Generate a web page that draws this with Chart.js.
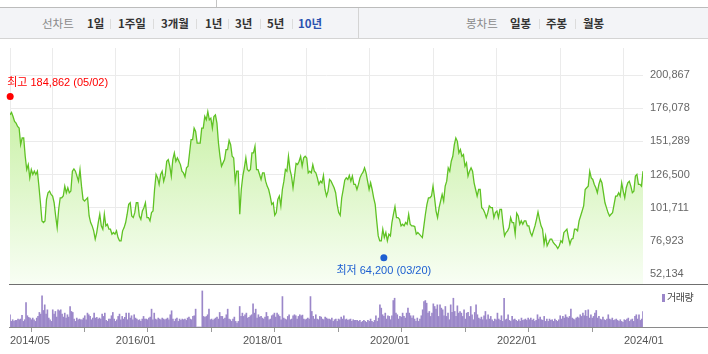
<!DOCTYPE html>
<html>
<head>
<meta charset="utf-8">
<script src="https://cdn.jsdelivr.net/npm/chart.js@4"></script>
<style>
  body { margin: 0; width: 708px; height: 354px; background: #fff; position: relative; overflow: hidden;
         font-family: "Noto Sans CJK KR", sans-serif; }
  .bar { position: absolute; left: 0; top: 7px; width: 708px; height: 30px; background: #f3f4f7;
         border-top: 1px solid #bcbcbc; border-bottom: 1px solid #d4d4d4; }
  .t { position: absolute; top: 0; line-height: 31px; font-size: 11.5px; color: #333; font-weight: bold; white-space: nowrap; }
  .t.g { color: #8a8a8a; font-weight: normal; }
  .t.on { color: #2a52b0; }
  .sep { position: absolute; top: 11px; width: 1px; height: 10px; background: #dcdcdc; }
  .div { position: absolute; top: 0; width: 1px; height: 30px; background: #d4d4d4; }
  .line { position: absolute; left: 9px; width: 699px; height: 1px; }
  canvas { position: absolute; left: 0; }
  .leg { position: absolute; left: 662px; top: 289px; font-size: 10px; color: #444; letter-spacing: -0.5px; }
  .leg i { display: inline-block; width: 3px; height: 8px; background: #9b87c9; margin-right: 2px; vertical-align: -1px; }
</style>
</head>
<body>
<div style="position:absolute;left:216px;top:0;width:1px;height:7px;background:#c4c4c4"></div>
<div class="bar">
  <span class="t g" style="left:42px">선차트</span>
  <span class="t" style="left:87px">1일</span><span class="sep" style="left:110px"></span>
  <span class="t" style="left:118px">1주일</span><span class="sep" style="left:153px"></span>
  <span class="t" style="left:161px">3개월</span><span class="sep" style="left:196px"></span>
  <span class="t" style="left:205px">1년</span><span class="sep" style="left:228px"></span>
  <span class="t" style="left:235px">3년</span><span class="sep" style="left:260px"></span>
  <span class="t" style="left:267px">5년</span><span class="sep" style="left:292px"></span>
  <span class="t on" style="left:298px">10년</span>
  <span class="div" style="left:358px"></span>
  <span class="t g" style="left:466px">봉차트</span>
  <span class="t" style="left:510px">일봉</span><span class="sep" style="left:539px"></span>
  <span class="t" style="left:546px">주봉</span><span class="sep" style="left:575px"></span>
  <span class="t" style="left:583px">월봉</span>
</div>
<canvas id="price" width="708" height="244" style="top:44px"></canvas>
<canvas id="volume" width="708" height="69" style="top:285px"></canvas>
<div class="line" style="top:284px;background:#6f6f6f"></div>
<div class="line" style="top:327px;background:#8a8a8a"></div>
<div class="leg"><i></i>거래량</div>
<script>
// 기간: 2014/05 ~ 2024/04 (개월 단위)
const spanMonths = 119.6;

// 종가 (주간 근사, 차트에서 읽은 값)
const priceValues = [
  171100,172900,169900,166200,164900,162400,161200,148800,153800,153800,140100,130200,133900,124000,130200,126500,
  129000,126500,129000,117800,105400,91800,90600,91800,107900,112900,114100,111600,110400,105400,95500,86800,
  100500,109100,109100,110400,117800,112900,116600,112900,114100,129000,130700,129000,125300,121500,130200,117800,
  107900,106700,107900,109100,95500,90600,88100,84400,78200,83100,90600,96800,88100,85600,96800,88100,89300,85600,
  85600,81900,83100,81900,84400,79400,76900,76900,84400,86800,90600,96800,104200,105400,95500,94300,98000,105400,
  105400,95500,93000,99200,101700,105400,94300,94300,91800,98000,99200,115300,126500,124000,119100,126500,
  129000,121500,125800,136400,137700,132700,125300,137700,142600,136400,138900,136400,133900,129000,127700,124800,
  131500,132700,142600,152500,152500,161200,158700,150000,150000,150000,161200,161200,169900,167400,173600,167400,
  168600,161200,169900,171100,164900,150000,140100,132700,135200,137700,145100,145100,152000,148800,140100,138900,
  121500,129000,129000,96800,115300,125300,131500,138900,130200,129000,130200,142600,142600,147600,130200,130200,
  126500,122800,127700,127700,121500,117800,115300,110400,104200,105400,96000,98000,107900,110400,103000,115300,
  121500,130200,129000,140100,130200,125300,116600,125300,134700,133900,136400,140100,132700,138900,140100,138900,
  127700,129000,127700,133900,129000,127700,
  124000,119100,121500,120300,125800,115300,110400,114100,122800,121500,119100,116600,112900,104200,98000,96000,
  109100,115300,122300,124000,122800,125800,121500,125300,119100,119100,115300,119100,124000,126500,128200,131500,
  127700,121500,115300,120300,115300,109100,104200,91800,80600,76900,76900,85600,79400,83100,76900,81900,80600,
  90600,96800,102500,94300,94300,93000,88100,89300,88100,90600,89300,96800,89300,88100,88100,87600,81900,83100,
  81900,80600,79400,88100,96800,104200,109100,109100,110400,117800,109100,99200,94300,101700,106700,111600,106700,
  117800,121500,131500,129000,136400,140100,148800,153800,151300,142600,145100,140100,141400,132700,135200,125300,
  129000,131500,129000,120300,115300,110400,115300,115300,101700,100500,
  98000,94300,98000,103000,101700,101700,94300,98000,99200,94300,100500,100500,89300,80600,83100,84400,86800,94300,
  90600,90600,81900,97500,95500,89300,91800,89300,91800,91800,88100,88100,83100,80600,84400,88100,93000,98500,
  93000,88100,85600,74400,80600,73200,75700,78200,78200,75700,74400,73200,71200,73200,76900,75700,83100,84400,
  85600,79400,74400,78200,78700,85600,85600,84400,91800,95500,99200,103000,115300,116600,117800,129000,124000,
  122800,119100,116600,112900,119100,122800,120300,112900,105400,101700,98000,95500,96800,98000,104200,110400,
  110400,112900,110400,120300,114100,109100,116600,120300,121500,117800,112900,114100,125300,126500,119100,119100,
  117800,129000
];

// 거래량 (상대값)
const volumeValues = [
  37,17,22,17,20,20,24,22,24,35,17,22,74,34,29,27,22,27,22,17,27,32,44,39,94,50,67,39,52,27,22,17,52,39,47,30,
  52,49,52,39,30,42,27,37,30,62,47,44,24,17,27,22,24,22,22,27,34,22,42,37,32,22,27,42,27,29,24,27,24,39,32,42,
  20,17,24,24,34,44,24,17,22,32,39,22,32,24,29,42,22,42,27,34,22,37,27,24,20,22,17,24,32,24,24,22,27,30,54,22,
  42,24,22,27,24,22,27,24,22,24,27,22,37,49,24,17,24,27,17,24,20,24,22,24,20,27,30,24,22,32,34,54,0,0,0,0,
  109,32,29,32,37,54,22,24,20,24,27,30,24,44,32,32,24,27,37,54,24,22,17,24,30,17,12,17,62,32,42,32,37,42,27,29,
  34,37,70,42,54,27,37,30,32,27,24,30,44,32,22,24,34,37,42,30,42,37,32,22,92,27,24,22,32,37,22,24,34,37,34,24,
  32,37,34,36,24,22,24,27,24,92,47,32,24,37,24,22,32,30,24,22,30,27,24,24,22,27,17,22,24,17,24,22,30,24,34,22,
  24,20,22,24,17,22,20,20,20,
  17,20,14,17,20,17,14,20,17,24,17,14,20,34,17,27,67,57,37,32,42,24,34,32,22,34,80,87,42,37,24,32,30,42,32,27,
  42,57,42,34,27,34,24,17,27,17,24,34,52,77,80,72,42,47,32,42,70,62,54,67,32,67,57,52,34,62,32,42,22,67,44,87,
  47,32,64,42,47,42,32,52,24,42,44,32,62,37,22,44,67,37,27,24,30,22,34,47,22,37,24,32,22,17,24,22,42,24,20,34,
  17,87,22,24,37,20,17,32,22,24,20,17,22,17,27,20,22,24,20,27,22,27,20,24,17,20,37,24,30,22,20,32,17,24,17,24,
  20,22,17,24,20,17,22,34,24,32,27,37,30,27,32,54,27,24,22,27,30,27,37,32,42,34,50,32,52,27,37,27,32,42,50,27,
  32,24,22,30,22,20,24,37,24,22,27,20,22,24,20,17,22,17,14,22,20,24,27,17,22,24,17,32,37,24,37,20,24,47
];

const yTickValues = [52134, 76923, 101711, 126500, 151289, 176078, 200867];
const xTickMonths = [0, 8, 20, 32, 44, 56, 68, 80, 92, 104, 116];
const xTickLabels = ['2014/05', '', '2016/01', '', '2018/01', '', '2020/01', '', '2022/01', '', '2024/01'];

const markerNames = ['최고', '최저'];
const markerValues = [184862, 64200];
const markerDates = ['2014/05/02', '2020/03/20'];
const markerColors = ['#ff0000', '#1d5fd1'];

const yMin = 44660, yMax = 221050;
const numFont = '"Liberation Sans", "Noto Sans CJK KR", sans-serif';

function monthsOf(d) {
  const [y, m, day] = d.split('/').map(Number);
  return (y - 2014) * 12 + (m - 5) + (day - 1) / 30;
}

const pricePts = priceValues.map((v, i) => ({ x: i * spanMonths / (priceValues.length - 1), y: v }));
const volumePts = volumeValues.map((v, i) => ({ x: i * spanMonths / (volumeValues.length - 1), y: v }));
const markerPts = markerValues.map((v, i) => ({ x: monthsOf(markerDates[i]), y: v }));

// 최고/최저 라벨
const markerLabels = {
  id: 'markerLabels',
  afterDatasetsDraw(chart) {
    const ctx = chart.ctx;
    const meta = chart.getDatasetMeta(1);
    ctx.save();
    ctx.font = '11px ' + numFont;
    ctx.textBaseline = 'middle';
    meta.data.forEach((pt, i) => {
      const txt = markerNames[i] + ' ' + markerValues[i].toLocaleString('en-US') + ' (' + markerDates[i].slice(5) + ')';
      ctx.fillStyle = markerColors[i];
      if (i === 0) {
        ctx.textAlign = 'left';
        ctx.fillText(txt, pt.x - 3, pt.y - 13);
      } else {
        ctx.textAlign = 'center';
        ctx.fillText(txt, pt.x, pt.y + 13);
      }
    });
    ctx.restore();
  }
};

new Chart(document.getElementById('price'), {
  type: 'line',
  data: {
    datasets: [{
      data: pricePts,
      order: 1,
      borderColor: '#5fc224',
      borderWidth: 1.3,
      pointRadius: 0,
      tension: 0,
      fill: 'start',
      backgroundColor(c) {
        const area = c.chart.chartArea;
        if (!area) return '#d8f5c0';
        const g = c.chart.ctx.createLinearGradient(0, area.top, 0, area.bottom);
        g.addColorStop(0, '#b9ec8c');
        g.addColorStop(1, '#f8fef4');
        return g;
      }
    }, {
      type: 'scatter',
      data: markerPts,
      order: 0,
      clip: false,
      pointRadius: 3.5,
      pointBackgroundColor: markerColors,
      pointBorderWidth: 0
    }]
  },
  options: {
    responsive: false,
    animation: false,
    devicePixelRatio: 1,
    layout: { padding: { left: 10, top: 3, right: 0, bottom: 0 } },
    plugins: { legend: { display: false }, tooltip: { enabled: false } },
    scales: {
      x: {
        type: 'linear', min: 0, max: spanMonths,
        ticks: { display: false },
        grid: { color: '#ebebeb', drawTicks: false },
        border: { display: false },
        afterBuildTicks: s => { s.ticks = xTickMonths.map(v => ({ value: v })); },
        afterFit: s => { s.height = 0; s.paddingLeft = 0; s.paddingRight = 0; }
      },
      y: {
        position: 'right', min: yMin, max: yMax,
        ticks: { color: '#666', padding: 7, font: { size: 11, family: numFont },
                 callback: v => v.toLocaleString('en-US') },
        grid: { color: '#ebebeb', drawTicks: false },
        border: { display: false },
        afterBuildTicks: s => { s.ticks = yTickValues.map(v => ({ value: v })); },
        afterFit: s => { s.width = 65; s.paddingTop = 0; s.paddingBottom = 0; }
      }
    }
  },
  plugins: [markerLabels]
});

new Chart(document.getElementById('volume'), {
  type: 'bar',
  data: {
    datasets: [{ data: volumePts, backgroundColor: '#9b87c9', barThickness: 1 }]
  },
  options: {
    responsive: false,
    animation: false,
    devicePixelRatio: 1,
    layout: { padding: { left: 10, top: 0, right: 65, bottom: 0 } },
    plugins: { legend: { display: false }, tooltip: { enabled: false } },
    scales: {
      x: {
        type: 'linear', min: 0, max: spanMonths, offset: false,
        ticks: { color: '#555', padding: 2, align: 'start', maxRotation: 0, autoSkip: false,
                 font: { size: 11, family: numFont },
                 callback: (v, i) => xTickLabels[i] },
        grid: { color: '#9a9a9a', drawOnChartArea: false, tickLength: 5 },
        border: { display: false },
        afterBuildTicks: s => { s.ticks = xTickMonths.map(v => ({ value: v })); },
        afterFit: s => { s.height = 27; s.paddingLeft = 0; s.paddingRight = 0; }
      },
      y: { display: false, min: 0, max: 127 }
    }
  }
});
</script>
</body>
</html>
